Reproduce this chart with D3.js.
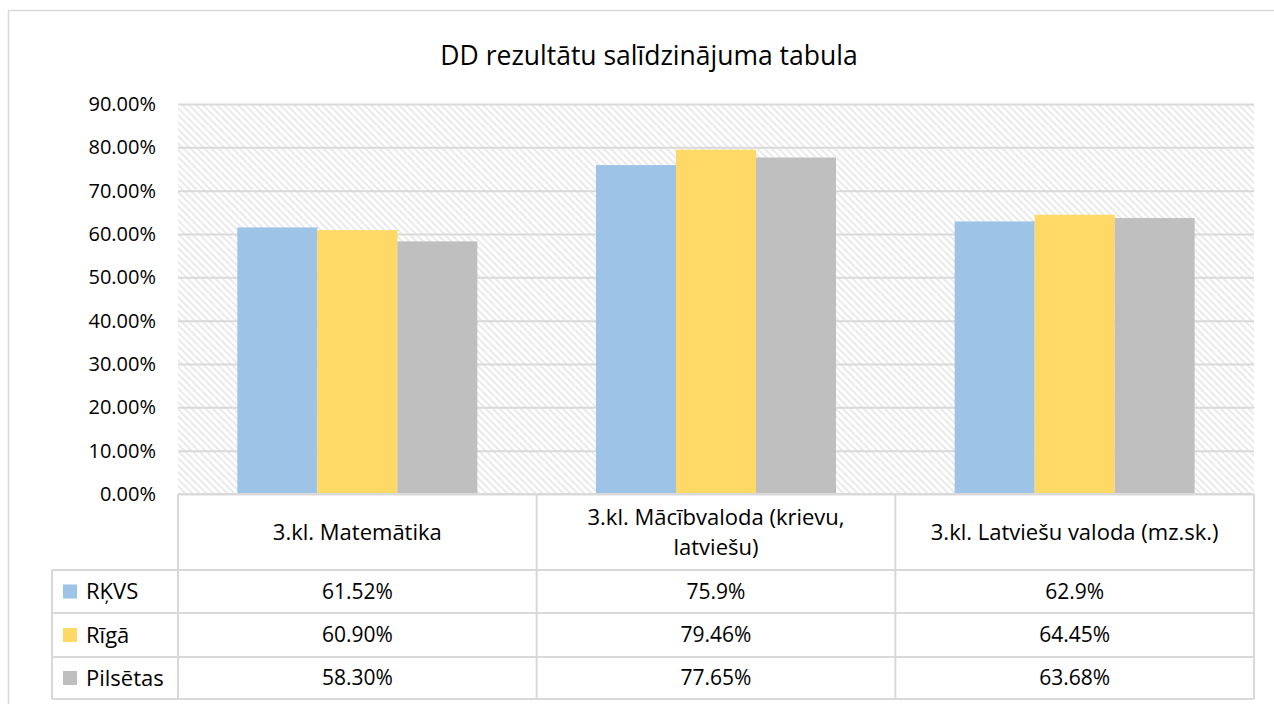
<!DOCTYPE html>
<html>
<head>
<meta charset="utf-8">
<script src="https://cdn.jsdelivr.net/npm/d3@7"></script>
<style>
  body { margin: 0; background: #fff; }
  svg text { font-family: "Open Sans", "Noto Sans", sans-serif; fill: #000; }
</style>
</head>
<body>
<div id="chart"></div>
<script>
var categories = ["3.kl. Matemātika", "3.kl. Mācībvaloda (krievu, latviešu)", "3.kl. Latviešu valoda (mz.sk.)"];
var categoryLines = [["3.kl. Matemātika"], ["3.kl. Mācībvaloda (krievu,", "latviešu)"], ["3.kl. Latviešu valoda (mz.sk.)"]];
var seriesNames = ["RĶVS", "Rīgā", "Pilsētas"];
var seriesColors = ["#9DC3E6", "#FFD966", "#BFBFBF"];
var rkvs = [61.52, 75.9, 62.9];
var riga = [60.90, 79.46, 64.45];
var pilsetas = [58.30, 77.65, 63.68];
var tableLabels = [
  ["61.52%", "75.9%", "62.9%"],
  ["60.90%", "79.46%", "64.45%"],
  ["58.30%", "77.65%", "63.68%"]
];
var yTicks = [0, 10, 20, 30, 40, 50, 60, 70, 80, 90];

var series = [rkvs, riga, pilsetas];

var width = 1274, height = 704;
var plot = {left: 178, right: 1254, top: 104, bottom: 494};
var gridColor = "#D9D9D9";

var svg = d3.select("#chart").append("svg")
  .attr("width", width)
  .attr("height", height);

// hatched plot background
var defs = svg.append("defs");
var pat = defs.append("pattern")
  .attr("id", "hatch")
  .attr("patternUnits", "userSpaceOnUse")
  .attr("width", 7).attr("height", 7);
pat.append("rect").attr("width", 7).attr("height", 7).attr("fill", "#fff");
pat.append("path")
  .attr("d", "M0,0 L7,7 M-2,5 L2,9 M5,-2 L9,2")
  .attr("stroke", "#E8E8E8")
  .attr("stroke-width", 1.8);

// outer chart border
svg.append("rect")
  .attr("x", 8.5).attr("y", 10.5)
  .attr("width", 1280).attr("height", 700)
  .attr("fill", "#fff")
  .attr("stroke", gridColor)
  .attr("stroke-width", 1.5);

var x = d3.scaleBand()
  .domain(categories)
  .range([plot.left, plot.right]);

var y = d3.scaleLinear()
  .domain([0, 90])
  .range([plot.bottom, plot.top]);

var barW = 80;
var xs = d3.scaleBand()
  .domain(seriesNames)
  .range([0, barW * 3]);

svg.append("rect")
  .attr("x", plot.left).attr("y", plot.top)
  .attr("width", plot.right - plot.left)
  .attr("height", plot.bottom - plot.top)
  .attr("fill", "url(#hatch)");

// gridlines
svg.append("g")
  .attr("transform", "translate(" + plot.left + ",0)")
  .call(d3.axisLeft(y).tickValues(yTicks).tickSize(-(plot.right - plot.left)).tickFormat(""))
  .call(function(g) {
    g.select(".domain").remove();
    g.selectAll(".tick line").attr("stroke", gridColor).attr("stroke-width", 2);
  });

// y axis labels
svg.append("g")
  .attr("transform", "translate(" + plot.left + ",0)")
  .call(d3.axisLeft(y).tickValues(yTicks).tickSize(0).tickPadding(22)
    .tickFormat(function(d) { return d3.format(".2f")(d) + "%"; }))
  .call(function(g) {
    g.select(".domain").remove();
    g.selectAll("text").style("font-size", "20px").attr("fill", "#000");
  });

// bars
series.forEach(function(vals, si) {
  svg.append("g").selectAll("rect")
    .data(vals)
    .enter().append("rect")
    .attr("x", function(d, i) { return x(categories[i]) + (x.bandwidth() - barW * 3) / 2 + xs(seriesNames[si]); })
    .attr("width", xs.bandwidth())
    .attr("y", function(d) { return y(d); })
    .attr("height", function(d) { return y(0) - y(d); })
    .attr("fill", seriesColors[si]);
});

// title
svg.append("text")
  .attr("x", 649).attr("y", 65)
  .attr("text-anchor", "middle")
  .style("font-size", "26.5px")
  .text("DD rezultātu salīdzinājuma tabula");

// data table
var rowTops = [494, 570, 613, 657, 699];
var legendLeft = 52;
var tbl = svg.append("g");

tbl.selectAll(".hline")
  .data(rowTops)
  .enter().append("line")
  .attr("x1", function(d, i) { return i < 1 ? plot.left : legendLeft; })
  .attr("x2", plot.right)
  .attr("y1", function(d) { return d; })
  .attr("y2", function(d) { return d; })
  .attr("stroke", gridColor).attr("stroke-width", 2);

var vlines = [plot.left].concat(categories.map(function(c) { return x(c) + x.bandwidth(); }));
tbl.selectAll(".vline")
  .data(vlines)
  .enter().append("line")
  .attr("x1", function(d) { return d; })
  .attr("x2", function(d) { return d; })
  .attr("y1", rowTops[0])
  .attr("y2", rowTops[4])
  .attr("stroke", gridColor).attr("stroke-width", 2);

tbl.append("line")
  .attr("x1", legendLeft).attr("x2", legendLeft)
  .attr("y1", rowTops[1]).attr("y2", rowTops[4])
  .attr("stroke", gridColor).attr("stroke-width", 2);

// header texts
categoryLines.forEach(function(lines, i) {
  var cy = (rowTops[0] + rowTops[1]) / 2;
  var lh = 30;
  lines.forEach(function(line, j) {
    tbl.append("text")
      .attr("x", x(categories[i]) + x.bandwidth() / 2)
      .attr("y", cy + (j - (lines.length - 1) / 2) * lh)
      .attr("dy", "0.35em")
      .attr("text-anchor", "middle")
      .style("font-size", "22px")
      .text(line);
  });
});

// rows
seriesNames.forEach(function(name, si) {
  var cy = (rowTops[si + 1] + rowTops[si + 2]) / 2;
  tbl.append("rect")
    .attr("x", 63).attr("y", cy - 7)
    .attr("width", 14).attr("height", 14)
    .attr("fill", seriesColors[si]);
  tbl.append("text")
    .attr("x", 86).attr("y", cy)
    .attr("dy", "0.35em")
    .style("font-size", "22px")
    .text(name);
  tableLabels[si].forEach(function(lbl, i) {
    tbl.append("text")
      .attr("x", x(categories[i]) + x.bandwidth() / 2)
      .attr("y", cy)
      .attr("dy", "0.35em")
      .attr("text-anchor", "middle")
      .style("font-size", "21px")
      .text(lbl);
  });
});
</script>
</body>
</html>
